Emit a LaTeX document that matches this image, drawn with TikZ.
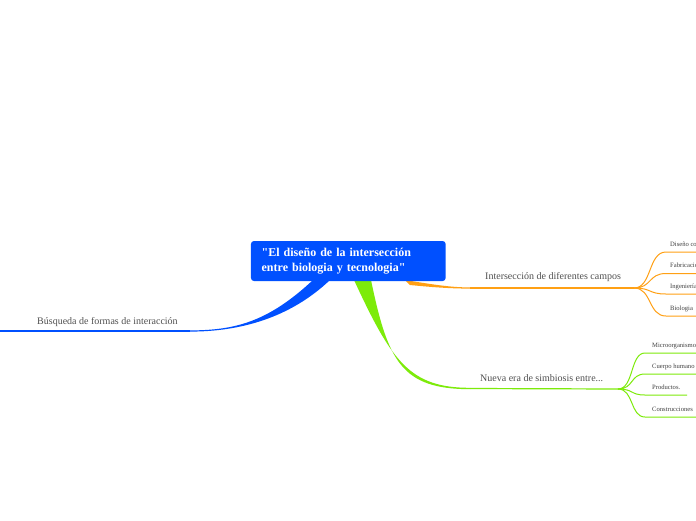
\documentclass[tikz,border=0pt]{standalone}
\usepackage{fontspec}
\setmainfont{Liberation Serif}
\definecolor{cblue}{RGB}{0,80,255}
\definecolor{corange}{RGB}{255,160,20}
\definecolor{cgreen}{RGB}{125,235,10}
\definecolor{ctext}{RGB}{80,80,80}
\tikzset{
  title/.style={fill=cblue, rounded corners=3pt, text=white, font=\fontsize{12}{14.4}\selectfont\bfseries,
    minimum width=194.7pt, minimum height=40pt, inner xsep=10.7pt, inner ysep=0pt, text width=173.3pt, align=left},
  mainlabel/.style={anchor=base west, inner sep=0pt, text=ctext, font=\fontsize{10}{12}\selectfont},
  sublabel/.style={anchor=base west, inner sep=0pt, text=black!75, font=\fontsize{6.6}{8}\selectfont},
  mainline/.style={line width=1.2pt},
  subline/.style={line width=1pt},
}
\begin{document}
\begin{tikzpicture}[x=1pt,y=-1pt]
\useasboundingbox (0,0) rectangle (696,520);
\clip (0,0) rectangle (696,520);
\fill[white] (0,0) rectangle (696,520);

% junction coordinates
\coordinate (bj) at (190,331);
\coordinate (bend) at (0,331);
\coordinate (oj0) at (470,288);
\coordinate (oj) at (634,288);
\coordinate (gj0) at (470,388.5);
\coordinate (gj) at (618,389);

% orange taper
\fill[corange] (405,280) .. controls (430,284) and (450,287.5) .. (470,287.4)
  -- (470,288.6) .. controls (450,288.6) and (430,287) .. (410,285) -- cycle;
\draw[corange, mainline] (oj0) -- (oj);

% green taper
\fill[cgreen] (354,280) .. controls (392,362) and (410,387.8) .. (470,387.8)
  -- (470,389.2) .. controls (402,389) and (388,362) .. (371,280) -- cycle;
\draw[cgreen, mainline] (gj0) -- (gj);

% blue taper
\fill[cblue] (313,280) .. controls (268,322) and (235,330.3) .. (190,330.4)
  -- (190,331.6) .. controls (240,331.6) and (290,318) .. (330,280) -- cycle;
\draw[cblue, mainline] (bj) -- (bend);

% title
\node[title] (root) at (348.3,261) {\textquotedbl El diseño de la intersección\\entre biologia y tecnologia\textquotedbl};

% main labels
\node[mainlabel] (lb) at (37,324) {Búsqueda de formas de interacción};
\node[mainlabel] (lo) at (485,279.5) {Intersección de diferentes campos};
\node[mainlabel] (lg) at (480,381) {Nueva era de simbiosis entre...};

% orange sub-branches
\foreach \y/\n in {252/o1,273.5/o2,294/o3,316/o4}{
  \coordinate (\n s) at (666,\y);
  \coordinate (\n e) at (700,\y);
  \draw[corange, subline] (oj) .. controls (652,288) and (648,\y) .. (\n s) -- (\n e);
}
\node[sublabel] (so1) at (670,246) {Diseño co};
\node[sublabel] (so2) at (670,267) {Fabricación};
\node[sublabel] (so3) at (670,288) {Ingeniería};
\node[sublabel] (so4) at (670,310) {Biologia};

% green sub-branches
\foreach \y/\n/\e in {353/g1/700,374/g2/700,395/g3/687,417/g4/700}{
  \coordinate (\n s) at (645,\y);
  \coordinate (\n e) at (\e,\y);
  \draw[cgreen, subline] (gj) .. controls (634,389) and (630,\y) .. (\n s) -- (\n e);
}
\node[sublabel] (sg1) at (652,347) {Microorganismos};
\node[sublabel] (sg2) at (652,368) {Cuerpo humano};
\node[sublabel] (sg3) at (652,389) {Productos.};
\node[sublabel] (sg4) at (652,411) {Construcciones};
\end{tikzpicture}
\end{document}
